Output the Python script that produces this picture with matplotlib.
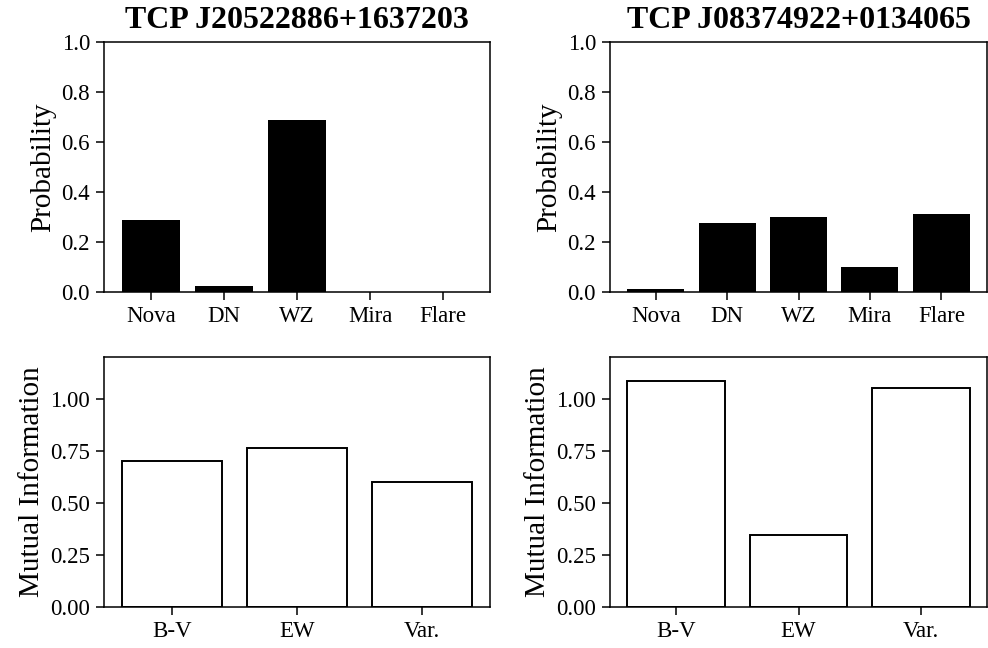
import matplotlib
matplotlib.use("Agg")
import matplotlib.pyplot as plt

# class probabilities
classes = ["Nova", "DN", "WZ", "Mira", "Flare"]
prob_left = [0.289, 0.024, 0.690, 0.0, 0.0]
prob_right = [0.012, 0.277, 0.301, 0.100, 0.313]

# mutual information per feature
features = ["B-V", "EW", "Var."]
mi_left = [0.699, 0.764, 0.599]
mi_right = [1.087, 0.346, 1.050]

titles = ["TCP J20522886+1637203", "TCP J08374922+0134065"]

plt.rcParams["font.family"] = "Liberation Serif"
plt.rcParams["font.size"] = 16

fig = plt.figure(figsize=(9.88, 6.48), dpi=100)
W, H = 988.0, 648.0


def make_axes(x0, x1, ytop, ybot):
    return fig.add_axes([x0 / W, 1 - ybot / H, (x1 - x0) / W, (ybot - ytop) / H])


ax_tl = make_axes(104, 490, 42, 292)
ax_tr = make_axes(610, 987, 42, 292)
ax_bl = make_axes(104, 490, 357, 607)
ax_br = make_axes(610, 987, 357, 607)

for ax, probs, title in [(ax_tl, prob_left, titles[0]), (ax_tr, prob_right, titles[1])]:
    ax.bar(classes, probs, width=0.8, color="black")
    ax.set_ylim(0, 1.0)
    ax.set_ylabel("Probability", fontsize=21)
    ax.set_title(title, fontsize=23, fontweight="bold", pad=10)

for ax, mi in [(ax_bl, mi_left), (ax_br, mi_right)]:
    ax.bar(features, mi, width=0.8, color="white", edgecolor="black", linewidth=1.4)
    ax.set_ylim(0, 1.2)
    ax.set_yticks([0, 0.25, 0.5, 0.75, 1.0])
    ax.set_ylabel("Mutual Information", fontsize=21)

for ax in [ax_tl, ax_tr, ax_bl, ax_br]:
    ax.tick_params(labelsize=16.5, length=6, width=1.1, pad=4)
    for sp in ax.spines.values():
        sp.set_linewidth(1.1)

fig.savefig("out.png", dpi=100)
